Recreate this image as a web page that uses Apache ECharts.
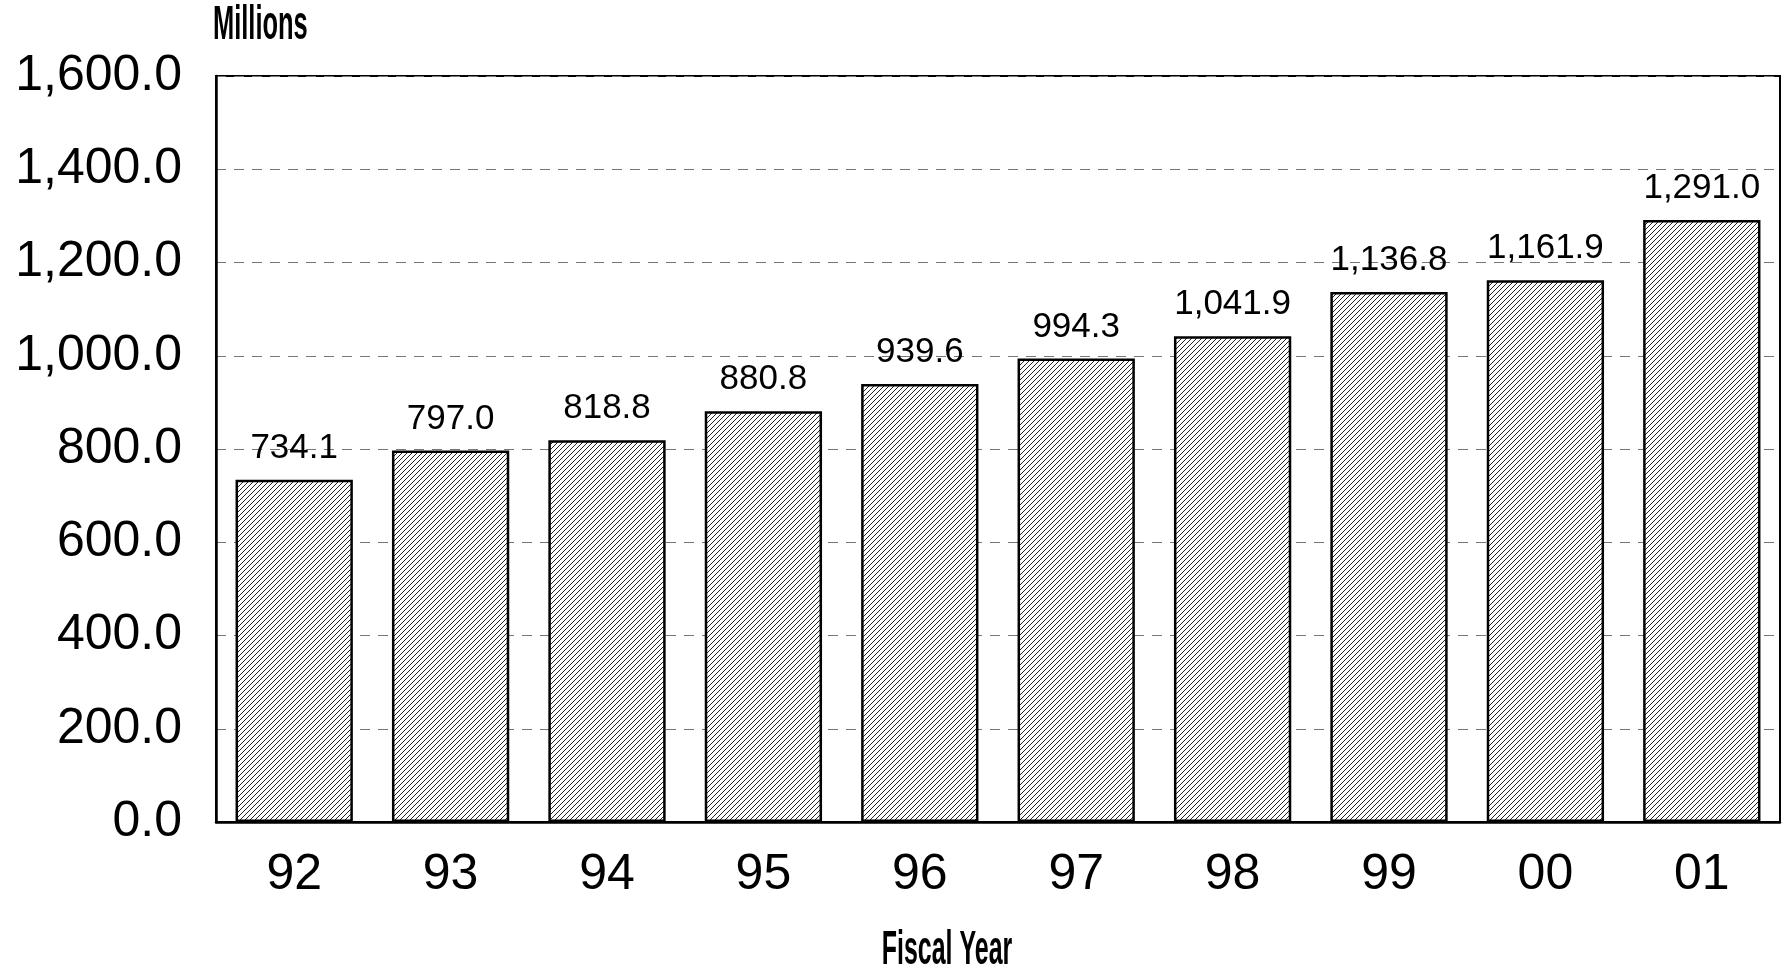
<!DOCTYPE html>
<html><head><meta charset="utf-8">
<script src="https://cdn.jsdelivr.net/npm/echarts@6/dist/echarts.min.js"></script>
<style>html,body{margin:0;padding:0;background:#fff}#c{width:1784px;height:976px}</style>
</head><body><div id="c"></div>
<script>
const categories = ['92','93','94','95','96','97','98','99','00','01'];
const values = [734.1, 797.0, 818.8, 880.8, 939.6, 994.3, 1041.9, 1136.8, 1161.9, 1291.0];
const yTicks = [0, 200, 400, 600, 800, 1000, 1200, 1400, 1600];
const yAxisName = 'Millions';
const xAxisName = 'Fiscal Year';

function fmt(v){
  return Number(v).toLocaleString('en-US',{minimumFractionDigits:1,maximumFractionDigits:1});
}
// hatch pattern
const s = 5;
const cv = document.createElement('canvas');
cv.width = s; cv.height = s;
const cx = cv.getContext('2d');
cx.fillStyle = '#fff'; cx.fillRect(0,0,s,s);
cx.strokeStyle = '#222'; cx.lineWidth = 1;
cx.beginPath();
cx.moveTo(0,s); cx.lineTo(s,0);
cx.moveTo(-1,1); cx.lineTo(1,-1);
cx.moveTo(s-1,s+1); cx.lineTo(s+1,s-1);
cx.stroke();

const chart = echarts.init(document.getElementById('c'));
const numFont = '"Liberation Sans", Arial, sans-serif';
const titleFont = 'bold 48px "Liberation Sans", Arial, sans-serif';
chart.setOption({
  backgroundColor: '#fff',
  animation: false,
  graphic: [
    {type:'text', x: 213, y: 2, scaleX: 0.53, style:{text: yAxisName, font: titleFont, fill:'#000', textAlign:'left', textVerticalAlign:'top'}},
    {type:'text', x: 947, y: 927, scaleX: 0.52, style:{text: xAxisName, font: titleFont, fill:'#000', textAlign:'center', textVerticalAlign:'top'}}
  ],
  grid: {left: 216, right: 4, top: 76, bottom: 154, show: true, borderColor:'#000', borderWidth:2, backgroundColor:'transparent'},
  xAxis: {
    type: 'category', data: categories,
    axisLine: {show:true, lineStyle:{color:'#000', width:2.5}},
    axisTick: {show:false},
    axisLabel: {fontFamily: numFont, fontSize: 50, color:'#000', margin: 28}
  },
  yAxis: {
    type: 'value', min: yTicks[0], max: yTicks[yTicks.length-1], interval: 200,
    axisLine: {show:true, lineStyle:{color:'#000', width:2.5}},
    axisTick: {show:false},
    splitLine: {show:true, lineStyle:{color:'#777', type:[10,8], width:1}},
    axisLabel: {fontFamily: numFont, fontSize: 50, color:'#000', margin: 34, formatter: v => fmt(v)}
  },
  series: [{
    type: 'bar', data: values, barCategoryGap: '25%',
    itemStyle: {color: {image: cv, repeat:'repeat'}, borderColor:'#000', borderWidth:2.5},
    label: {show:true, position:'top', distance: 14, fontFamily: numFont, fontSize: 35, color:'#000', formatter: p => fmt(p.value)}
  }]
});
</script></body></html>
